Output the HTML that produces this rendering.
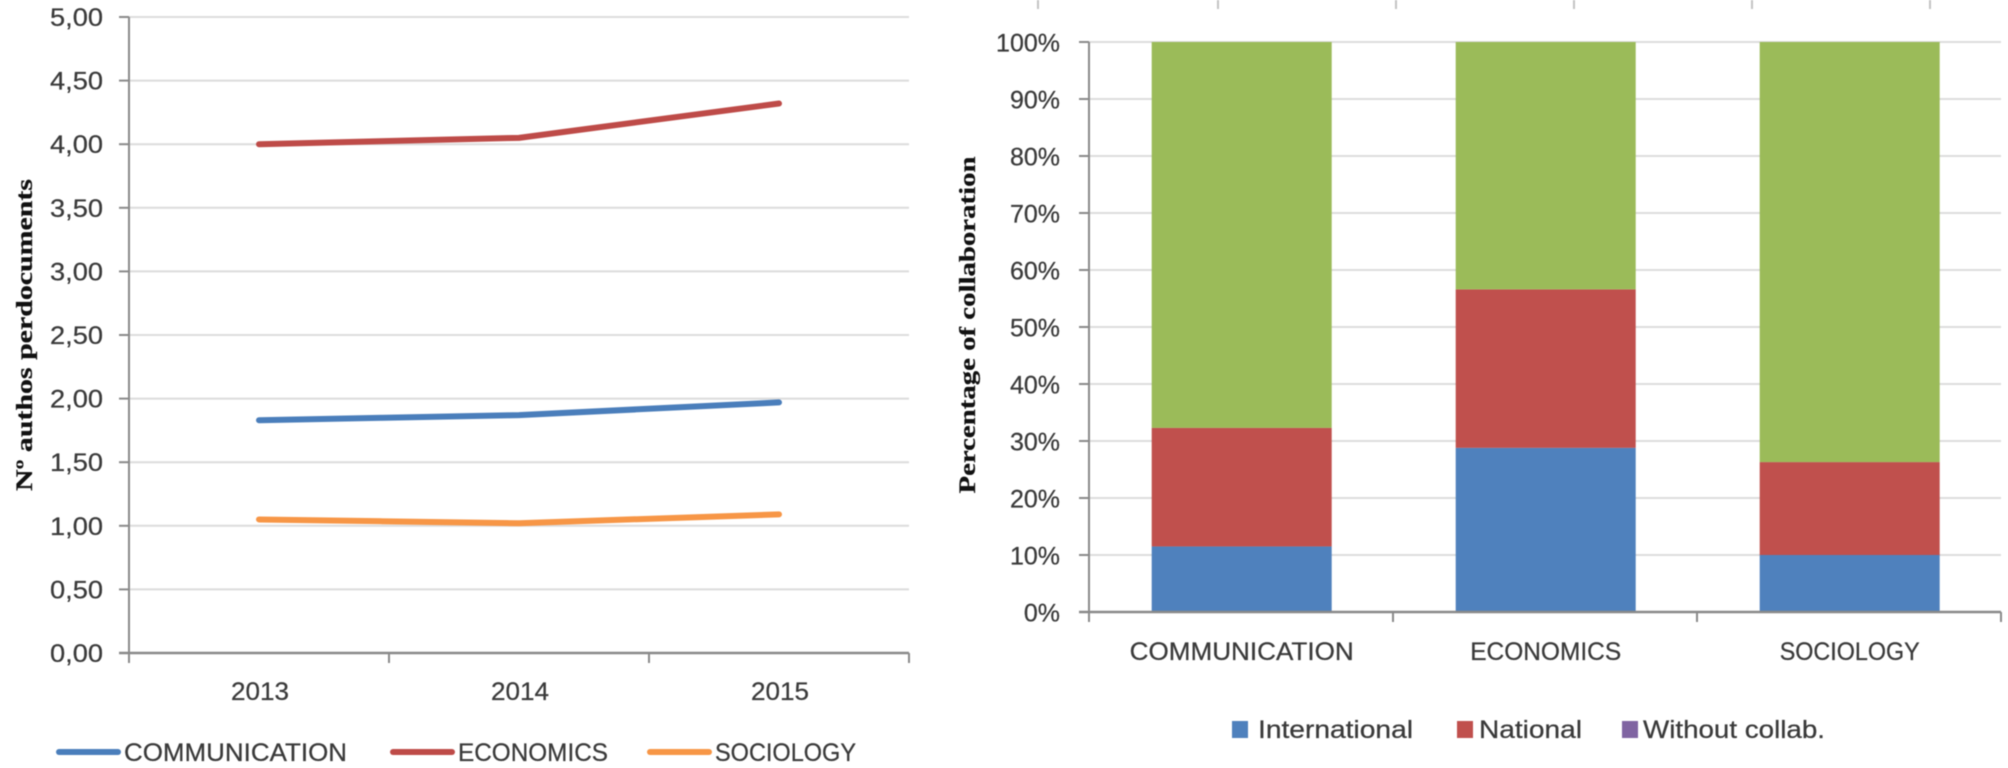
<!DOCTYPE html>
<html lang="en">
<head>
<meta charset="utf-8">
<title>Authors per document and percentage of collaboration</title>
<style>
  html, body { margin: 0; padding: 0; background: #fff; }
  body { width: 2008px; height: 768px; overflow: hidden; }
  svg { display: block; filter: blur(0.55px); }
  text { font-family: "Liberation Sans", sans-serif; fill: #3a3a3a; font-size: 25px; stroke: #3a3a3a; stroke-width: 0.25px; }
  .title { font-family: "Liberation Serif", serif; font-weight: bold; font-size: 23px; fill: #111; stroke: #111; }
</style>
</head>
<body>
<svg id="fig" xmlns="http://www.w3.org/2000/svg" width="2008" height="768" viewBox="0 0 2008 768">
  <rect width="2008" height="768" fill="#fff"/>
  <g id="top-stubs"></g>
  <g id="line-chart"></g>
  <g id="bar-chart"></g>
</svg>
<script>
// ---- line chart data
const years = ['2013', '2014', '2015'];
const lineTickValues = [0, 0.5, 1, 1.5, 2, 2.5, 3, 3.5, 4, 4.5, 5];
const lineTickLabels = ['0,00', '0,50', '1,00', '1,50', '2,00', '2,50', '3,00', '3,50', '4,00', '4,50', '5,00'];
const lineSeriesNames = ['COMMUNICATION', 'ECONOMICS', 'SOCIOLOGY'];
const communicationValues = [1.83, 1.87, 1.97];
const economicsValues = [4.00, 4.05, 4.32];
const sociologyValues = [1.05, 1.02, 1.09];

// ---- bar chart data
const barCategories = ['COMMUNICATION', 'ECONOMICS', 'SOCIOLOGY'];
const barTickValues = [0, 10, 20, 30, 40, 50, 60, 70, 80, 90, 100];
const barTickLabels = ['0%', '10%', '20%', '30%', '40%', '50%', '60%', '70%', '80%', '90%', '100%'];
const internationalValues = [11.5, 28.8, 10.0];
const nationalValues = [20.8, 27.8, 16.3];
const withoutCollabValues = [0, 0, 0];
const otherCollabValues = [67.7, 43.4, 73.7];

const NS = 'http://www.w3.org/2000/svg';
function mk(parent, tag, attrs, name) {
  const el = document.createElementNS(NS, tag);
  for (const k in attrs) el.setAttribute(k, attrs[k]);
  
  
  parent.appendChild(el);
  return el;
}
function label(parent, str, x, y, anchor, width, name, cls) {
  const attrs = { x: x, y: y, 'text-anchor': anchor };
  if (width) { attrs.textLength = width; attrs.lengthAdjust = 'spacingAndGlyphs'; }
  if (cls) attrs.class = cls;
  const t = mk(parent, 'text', attrs, name);
  t.textContent = str;
  return t;
}

const GRID = '#dcdcdc', AXIS = '#8a8a8a';

// ---- cropped ticks from a chart above, visible at the top edge
const stubs = document.getElementById('top-stubs');
[1038, 1218, 1396, 1574, 1752, 1930].forEach(function (x) {
  mk(stubs, 'line', { x1: x, x2: x, y1: 0, y2: 9, stroke: '#c4c4c4', 'stroke-width': 2 }, 'top-tick');
});

// ---- line chart
(function () {
  const g = document.getElementById('line-chart');
  const L = 129, R = 909, T = 17, B = 653;
  const yMax = lineTickValues[lineTickValues.length - 1];
  const y = function (v) { return B - (v / yMax) * (B - T); };
  const band = (R - L) / years.length;
  const x = function (i) { return L + band * (i + 0.5); };

  lineTickValues.forEach(function (v, i) {
    if (v > 0) mk(g, 'line', { x1: L, x2: R, y1: y(v), y2: y(v), stroke: GRID, 'stroke-width': 2 }, 'gridline');
    mk(g, 'line', { x1: L - 10, x2: L, y1: y(v), y2: y(v), stroke: AXIS, 'stroke-width': 2 }, 'y-tick');
    label(g, lineTickLabels[i], 103, y(v) + 9, 'end', 53, 'y-tick-label');
  });
  mk(g, 'line', { x1: L, x2: L, y1: T, y2: B, stroke: AXIS, 'stroke-width': 2 }, 'y-axis-line');
  mk(g, 'line', { x1: L - 10, x2: R, y1: B, y2: B, stroke: AXIS, 'stroke-width': 2.5 }, 'x-axis-line');
  for (let i = 0; i <= years.length; i++) {
    mk(g, 'line', { x1: L + band * i, x2: L + band * i, y1: B, y2: B + 10, stroke: AXIS, 'stroke-width': 2 }, 'x-tick');
  }
  years.forEach(function (yr, i) {
    label(g, yr, x(i) + 1, 700, 'middle', 58, 'x-tick-label');
  });

  const title = label(g, 'Nº authos perdocuments', 0, 0, 'middle', 312, 'y-axis-title', 'title');
  title.setAttribute('transform', 'translate(32,335) rotate(-90)');

  const allSeries = [communicationValues, economicsValues, sociologyValues];
  const colors = ['#4A7EBB', '#BE4B48', '#F79646'];
  allSeries.forEach(function (vals, s) {
    const pts = vals.map(function (v, i) { return x(i) + ',' + y(v); }).join(' ');
    mk(g, 'polyline', { points: pts, fill: 'none', stroke: colors[s], 'stroke-width': 6, 'stroke-linecap': 'round', 'stroke-linejoin': 'round' }, 'line-' + lineSeriesNames[s].toLowerCase());
  });

  // legend
  const keyStart = [59, 393, 650];
  const textStart = [124, 458, 715];
  const textWidth = [223, 150, 141];
  lineSeriesNames.forEach(function (n, s) {
    mk(g, 'line', { x1: keyStart[s], x2: keyStart[s] + 59, y1: 752, y2: 752, stroke: colors[s], 'stroke-width': 6, 'stroke-linecap': 'round' }, 'legend-key-' + n.toLowerCase());
    label(g, n, textStart[s], 761, 'start', textWidth[s], 'legend-label-' + n.toLowerCase());
  });
})();

// ---- stacked bar chart
(function () {
  const g = document.getElementById('bar-chart');
  const L = 1089, R = 2001, T = 42, B = 612;
  const y = function (v) { return B - (v / 100) * (B - T); };
  const band = (R - L) / barCategories.length;
  const x = function (i) { return L + band * (i + 0.5) + 0.7; };
  const barW = 180;

  barTickValues.forEach(function (v, i) {
    if (v > 0) mk(g, 'line', { x1: L, x2: R, y1: y(v), y2: y(v), stroke: GRID, 'stroke-width': 2 }, 'gridline');
    mk(g, 'line', { x1: L - 10, x2: L, y1: y(v), y2: y(v), stroke: AXIS, 'stroke-width': 2 }, 'y-tick');
    label(g, barTickLabels[i], 1060, y(v) + 9.5, 'end', 0, 'y-tick-label');
  });

  const stacks = [internationalValues, nationalValues, withoutCollabValues, otherCollabValues];
  const fills = ['#4F81BD', '#C0504D', '#8064A2', '#9BBB59'];
  const stackNames = ['international', 'national', 'without-collab', 'other-collab'];
  barCategories.forEach(function (c, i) {
    let base = 0;
    stacks.forEach(function (vals, s) {
      const v = vals[i];
      if (v > 0) {
        mk(g, 'rect', { x: x(i) - barW / 2, y: y(base + v), width: barW, height: y(base) - y(base + v), fill: fills[s] }, 'bar-' + c.toLowerCase() + '-' + stackNames[s]);
      }
      base += v;
    });
  });

  mk(g, 'line', { x1: L, x2: L, y1: T, y2: B, stroke: AXIS, 'stroke-width': 2 }, 'y-axis-line');
  mk(g, 'line', { x1: L - 10, x2: R, y1: B, y2: B, stroke: AXIS, 'stroke-width': 2.5 }, 'x-axis-line');
  for (let i = 0; i <= barCategories.length; i++) {
    mk(g, 'line', { x1: L + band * i, x2: L + band * i, y1: B, y2: B + 10, stroke: AXIS, 'stroke-width': 2 }, 'x-tick');
  }
  const catWidth = [224, 151, 140];
  barCategories.forEach(function (c, i) {
    label(g, c, x(i), 660, 'middle', catWidth[i], 'x-tick-label');
  });

  const title = label(g, 'Percentage of collaboration', 0, 0, 'middle', 337, 'y-axis-title', 'title');
  title.setAttribute('transform', 'translate(975,325) rotate(-90)');

  // legend
  const keyX = [1232, 1457, 1622];
  const txtX = [1258, 1479, 1643];
  const txtW = [155, 103, 182];
  const legendNames = ['International', 'National', 'Without collab.'];
  legendNames.forEach(function (n, s) {
    mk(g, 'rect', { x: keyX[s], y: 721, width: 16, height: 17, fill: fills[s] }, 'legend-key-' + stackNames[s]);
    label(g, n, txtX[s], 738, 'start', txtW[s], 'legend-label-' + stackNames[s]);
  });
})();
</script>
</body>
</html>
